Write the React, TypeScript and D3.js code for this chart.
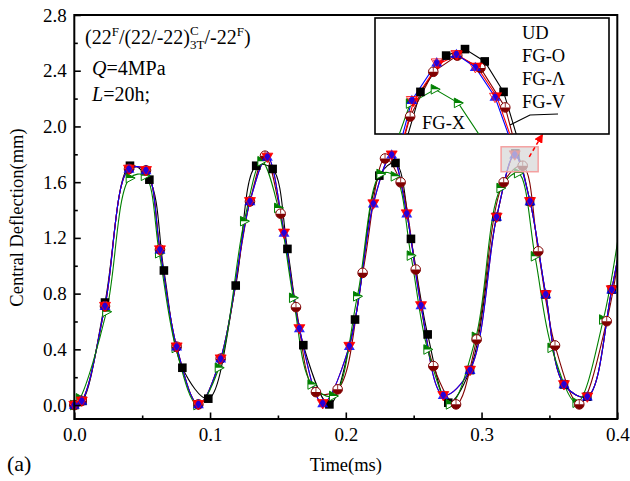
// @ts-nocheck
import React, { useRef, useEffect } from "react";
import * as d3 from "d3";

const FONT = "'Liberation Serif', 'Times New Roman', Times, serif";

// series names / colours / symbols
const seriesNames = ["UD", "FG-O", "FG-Λ", "FG-V", "FG-X"];
const seriesColors = ["#000000", "#800000", "#ff0000", "#0000ff", "#008000"];
const seriesSymbols = ["square", "halfCircle", "triDown", "triUp", "triRight"];

// [time (ms), central deflection (mm)]
const udMain = [
  [0, 0], [0.006, 0.03], [0.0226, 0.736], [0.041, 1.718], [0.0553, 1.618], [0.066, 0.966],
  [0.0796, 0.268], [0.0987, 0.046], [0.1189, 0.858], [0.134, 1.718], [0.1461, 1.695],
  [0.157, 1.121], [0.1687, 0.43], [0.1879, 0.005], [0.2068, 0.614], [0.2247, 1.647],
  [0.2366, 1.738], [0.248, 1.193], [0.2603, 0.507], [0.2755, 0.017], [0.2915, 0.251],
  [0.3111, 1.35], [0.3249, 1.806], [0.3357, 1.462], [0.3473, 0.794], [0.3607, 0.148],
  [0.3779, 0.06], [0.3959, 0.829], [0.41, 1.58],
];
const foMain = [
  [0, 0], [0.0055, 0.03], [0.0226, 0.71], [0.0403, 1.695], [0.0528, 1.685], [0.0631, 1.116],
  [0.0754, 0.419], [0.0914, 0.005], [0.1078, 0.333], [0.1294, 1.462], [0.1405, 1.79],
  [0.152, 1.374], [0.1633, 0.703], [0.178, 0.093], [0.194, 0.113], [0.2124, 0.949],
  [0.2289, 1.77], [0.2404, 1.599], [0.2515, 0.973], [0.2645, 0.28], [0.2812, 0.005],
  [0.2964, 0.471], [0.3163, 1.599], [0.3303, 1.718], [0.3418, 1.104], [0.3541, 0.428],
  [0.372, 0.005], [0.3922, 0.602], [0.408, 1.55],
];
const faMain = [
  [0, 0], [0.0055, 0.03], [0.0226, 0.71], [0.0403, 1.695], [0.0528, 1.685], [0.0631, 1.116],
  [0.0754, 0.419], [0.0914, 0.005], [0.1078, 0.333], [0.1294, 1.462], [0.1422, 1.781],
  [0.1545, 1.236], [0.1658, 0.55], [0.183, 0.012], [0.2026, 0.423], [0.2203, 1.446],
  [0.2338, 1.797], [0.2449, 1.374], [0.2554, 0.715], [0.2718, 0.07], [0.2915, 0.251],
  [0.3111, 1.35], [0.3246, 1.797], [0.3357, 1.462], [0.3473, 0.794], [0.3607, 0.148],
  [0.3779, 0.06], [0.3959, 0.829], [0.41, 1.6],
];
const fvMain = [
  [0, 0], [0.0055, 0.03], [0.0226, 0.71], [0.0403, 1.695], [0.0528, 1.685], [0.0631, 1.116],
  [0.0754, 0.419], [0.0914, 0.005], [0.1078, 0.333], [0.1294, 1.462], [0.1422, 1.781],
  [0.1545, 1.236], [0.1658, 0.55], [0.183, 0.012], [0.2026, 0.423], [0.2203, 1.446],
  [0.2338, 1.797], [0.2449, 1.374], [0.2554, 0.715], [0.2718, 0.07], [0.2915, 0.251],
  [0.3111, 1.35], [0.3244, 1.798], [0.3357, 1.462], [0.3473, 0.794], [0.3607, 0.148],
  [0.3779, 0.06], [0.3959, 0.829], [0.41, 1.6],
];
const fxMain = [
  [0, 0], [0.0042, 0.048], [0.0237, 0.67], [0.041, 1.63], [0.0521, 1.646], [0.0626, 1.09],
  [0.0748, 0.41], [0.0908, 0.0], [0.1066, 0.268], [0.1252, 1.32], [0.138, 1.75],
  [0.1503, 1.415], [0.1613, 0.77], [0.1749, 0.148], [0.1908, 0.065], [0.2085, 0.781],
  [0.2257, 1.659], [0.2362, 1.642], [0.248, 1.073], [0.2603, 0.399], [0.2768, 0.005],
  [0.2959, 0.49], [0.3141, 1.558], [0.327, 1.665], [0.3394, 1.068], [0.3517, 0.411],
  [0.3701, 0.017], [0.3897, 0.614], [0.405, 1.5],
];

// dense points shown in the magnified inset (around the 4th peak)
const udZoom = [[0.3197, 1.74], [0.3227, 1.796], [0.3249, 1.806], [0.3272, 1.787], [0.3294, 1.74]];
const foZoom = [[0.3185, 1.702], [0.3212, 1.771], [0.324, 1.796], [0.3267, 1.777], [0.3296, 1.716]];
const faZoom = [[0.3189, 1.725], [0.3218, 1.783], [0.324, 1.797], [0.3263, 1.779], [0.3286, 1.733]];
const fvZoom = [[0.3187, 1.727], [0.3216, 1.785], [0.3239, 1.798], [0.3261, 1.778], [0.3284, 1.732]];
const fxZoom = [[0.3185, 1.722], [0.3214, 1.744], [0.3241, 1.723]];

const mainData = [udMain, foMain, faMain, fvMain, fxMain];
const zoomData = [udZoom, foZoom, faZoom, fvZoom, fxZoom];

// axes
const xDomain = [0, 0.4];
const yDomain = [-0.1, 2.8];
const xTicks = [0, 0.1, 0.2, 0.3, 0.4];
const xMinor = [0.05, 0.15, 0.25, 0.35];
const yTicks = [0, 0.4, 0.8, 1.2, 1.6, 2.0, 2.4, 2.8];
const yMinor = [0.2, 0.6, 1.0, 1.4, 1.8, 2.2, 2.6];

// magnified window
const zoomT = [0.3144, 0.3417];
const zoomV = [1.675, 1.854];

function drawSymbol(sel, kind, color) {
  if (kind === "square") {
    sel.append("rect").attr("x", -4.3).attr("y", -4.3).attr("width", 8.6).attr("height", 8.6).attr("fill", color);
  } else if (kind === "halfCircle") {
    sel.append("circle").attr("r", 4.8).attr("fill", "#fff").attr("stroke", color).attr("stroke-width", 1);
    sel.append("path").attr("d", "M-4.8,0 A4.8,4.8 0 0 0 4.8,0 Z").attr("fill", color);
    sel.append("line").attr("x1", 0).attr("x2", 0).attr("y1", 0).attr("y2", -4.8).attr("stroke", color).attr("stroke-width", 0.8);
  } else if (kind === "triDown") {
    sel.append("path").attr("d", "M-5.5,-3.8 L5.5,-3.8 L0,5.6 Z").attr("fill", color);
  } else if (kind === "triUp") {
    sel.append("path").attr("d", "M0,-5.6 L5.5,3.8 L-5.5,3.8 Z").attr("fill", color).attr("fill-opacity", 0.85);
    sel.append("path").attr("d", "M-5.5,-3.8 L5.5,-3.8 L0,5.6 Z").attr("fill", "none").attr("stroke", "#ff0000").attr("stroke-width", 0.8);
  } else if (kind === "triRight") {
    sel.append("path").attr("d", "M-3.8,-4.8 L5.2,0 L-3.8,4.8 Z").attr("fill", "#fff").attr("stroke", color).attr("stroke-width", 1);
    sel.append("path").attr("d", "M-3.8,-4.8 L5.2,0 L-3.8,0 Z").attr("fill", color);
  }
}

function mergeZoom(main, zoom) {
  const a = zoom[0][0] - 0.001;
  const b = zoom[zoom.length - 1][0] + 0.001;
  return [...main.filter((p) => p[0] < a || p[0] > b), ...zoom].sort((p, q) => p[0] - q[0]);
}

const Chart = () => {
  const svgRef = useRef(null);

  useEffect(() => {
    const svg = d3.select(svgRef.current);
    svg.selectAll("*").remove();

    const left = 74.3, right = 617.3, top = 15, bottom = 419;
    const x = d3.scaleLinear().domain(xDomain).range([left, right]);
    const y = d3.scaleLinear().domain(yDomain).range([bottom, top]);

    const defs = svg.append("defs");
    defs.append("clipPath").attr("id", "plotClip")
      .append("rect").attr("x", left).attr("y", top).attr("width", right - left).attr("height", bottom - top);

    // lines
    const line = d3.line().x((d) => x(d[0])).y((d) => y(d[1])).curve(d3.curveCatmullRom.alpha(0.5));
    const lineG = svg.append("g").attr("clip-path", "url(#plotClip)");
    mainData.forEach((pts, i) => {
      lineG.append("path").attr("d", line(pts)).attr("fill", "none")
        .attr("stroke", seriesColors[i]).attr("stroke-width", 1.1);
    });

    // markers (UD, FG-X, FG-O, FG-Λ, FG-V)
    const order = [0, 4, 1, 2, 3];
    order.forEach((i) => {
      const g = svg.append("g");
      const pts = mainData[i].filter((p) => p[0] <= xDomain[1]);
      g.selectAll("g").data(pts).join("g")
        .attr("transform", (d) => `translate(${x(d[0])},${y(d[1])})`)
        .each(function () { drawSymbol(d3.select(this), seriesSymbols[i], seriesColors[i]); });
    });

    // axes
    const gx = svg.append("g").attr("transform", `translate(0,${bottom})`)
      .call(d3.axisBottom(x).tickValues(xTicks).tickSizeInner(-6.5).tickSizeOuter(0).tickPadding(8.5).tickFormat(d3.format(".1f")));
    gx.append("g").call(d3.axisBottom(x).tickValues(xMinor).tickSizeInner(-3.5).tickSizeOuter(0).tickFormat(() => ""));
    const gy = svg.append("g").attr("transform", `translate(${left},0)`)
      .call(d3.axisLeft(y).tickValues(yTicks).tickSizeInner(-6.5).tickSizeOuter(0).tickPadding(7.5).tickFormat(d3.format(".1f")));
    gy.append("g").call(d3.axisLeft(y).tickValues(yMinor).tickSizeInner(-3.5).tickSizeOuter(0).tickFormat(() => ""));
    [gx, gy].forEach((g) => {
      g.selectAll(".domain").remove();
      g.selectAll("line").attr("stroke", "#000").attr("stroke-width", 1.6);
      g.selectAll("text").attr("font-family", FONT).attr("font-size", 19).attr("fill", "#000");
    });

    svg.append("rect").attr("x", left).attr("y", top).attr("width", right - left).attr("height", bottom - top)
      .attr("fill", "none").attr("stroke", "#000").attr("stroke-width", 2);

    // highlighted window
    const bx0 = x(zoomT[0]), bx1 = x(zoomT[1]), by0 = y(zoomV[1]), by1 = y(zoomV[0]);
    svg.append("rect").attr("x", bx0).attr("y", by0).attr("width", bx1 - bx0).attr("height", by1 - by0)
      .attr("fill", "#d8d8d8").attr("fill-opacity", 0.75).attr("stroke", "#f4a0a0").attr("stroke-width", 1.5);

    // inset
    const ix0 = 375, ix1 = 609, iy0 = 18, iy1 = 134;
    const xi = d3.scaleLinear().domain(zoomT).range([ix0, ix1]);
    const yi = d3.scaleLinear().domain(zoomV).range([iy1, iy0]);

    defs.append("marker").attr("id", "arrowHead").attr("viewBox", "0 0 10 10").attr("refX", 9).attr("refY", 5)
      .attr("markerWidth", 9).attr("markerHeight", 9).attr("markerUnits", "userSpaceOnUse").attr("orient", "auto")
      .append("path").attr("d", "M0,0 L10,5 L0,10 Z").attr("fill", "#ff0000");
    svg.append("line")
      .attr("x1", bx0 + 0.76 * (bx1 - bx0)).attr("y1", by0 + 0.4 * (by1 - by0))
      .attr("x2", 542.5).attr("y2", iy1 + 0.5)
      .attr("stroke", "#ff0000").attr("stroke-width", 1.5).attr("stroke-dasharray", "4,3")
      .attr("marker-end", "url(#arrowHead)");

    svg.append("rect").attr("x", ix0).attr("y", iy0).attr("width", ix1 - ix0).attr("height", iy1 - iy0)
      .attr("fill", "#fff").attr("stroke", "#000").attr("stroke-width", 1.6);
    defs.append("clipPath").attr("id", "insetClip")
      .append("rect").attr("x", ix0).attr("y", iy0).attr("width", ix1 - ix0).attr("height", iy1 - iy0);

    const ig = svg.append("g").attr("clip-path", "url(#insetClip)");
    const iline = d3.line().x((d) => xi(d[0])).y((d) => yi(d[1]));
    mainData.forEach((pts, i) => {
      ig.append("path").attr("d", iline(mergeZoom(pts, zoomData[i]))).attr("fill", "none")
        .attr("stroke", seriesColors[i]).attr("stroke-width", 1.1);
    });
    order.forEach((i) => {
      ig.append("g").selectAll("g").data(zoomData[i]).join("g")
        .attr("transform", (d) => `translate(${xi(d[0])},${yi(d[1])})`)
        .each(function () { drawSymbol(d3.select(this), seriesSymbols[i], seriesColors[i]); });
    });

    // inset labels
    const lab = svg.append("g").attr("font-family", FONT).attr("font-size", 18.5).attr("fill", "#000");
    [38.5, 61.5, 85, 108].forEach((by, i) => {
      lab.append("text").attr("x", 522).attr("y", by).text(seriesNames[i]);
    });
    lab.append("text").attr("x", 422).attr("y", 129).text(seriesNames[4]);
    svg.append("polyline").attr("points", "558,114 530,115 510,125")
      .attr("fill", "none").attr("stroke", "#000").attr("stroke-width", 1.2);
  }, []);

  return (
    <svg ref={svgRef} width={630} height={481} style={{ position: "absolute", left: 0, top: 0, background: "#fff" }} />
  );
};

const App = () => (
  <div style={{ position: "absolute", left: 0, top: 0, width: 630, height: 481 }}>
    <Chart />
    <svg width={630} height={481} style={{ position: "absolute", left: 0, top: 0, pointerEvents: "none" }}>
      <g fontFamily={FONT} fill="#000">
        <text x={85} y={44} fontSize={20}>
          (22<tspan dy={-8} fontSize={13}>F</tspan>
          <tspan dy={8}>/(22/-22)</tspan>
          <tspan dy={-9} fontSize={13}>C</tspan>
          <tspan dx={-8.7} dy={14} fontSize={13}>3T</tspan>
          <tspan dy={-5}>/-22</tspan>
          <tspan dy={-8} fontSize={13}>F</tspan>
          <tspan dy={8}>)</tspan>
        </text>
        <text x={92} y={75} fontSize={20}>
          <tspan fontStyle="italic">Q</tspan>=4MPa
        </text>
        <text x={92} y={101} fontSize={20}>
          <tspan fontStyle="italic">L</tspan>=20h;
        </text>
        <text transform="translate(23,217.5) rotate(-90)" textAnchor="middle" fontSize={18.5}>
          Central Deflection(mm)
        </text>
        <text x={345.8} y={471} textAnchor="middle" fontSize={18.5}>
          Time(ms)
        </text>
        <text x={7} y={471} fontSize={22}>
          (a)
        </text>
      </g>
    </svg>
  </div>
);

export default App;
